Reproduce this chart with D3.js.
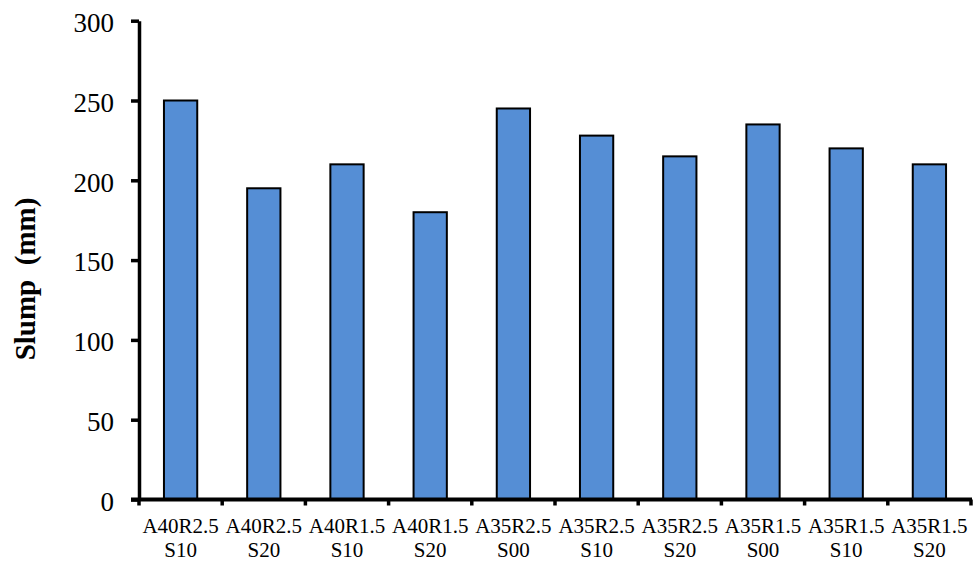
<!DOCTYPE html>
<html>
<head>
<meta charset="utf-8">
<script src="https://cdn.jsdelivr.net/npm/d3@7"></script>
<style>
  body { margin: 0; background: #fff; }
  svg { display: block; font-family: "Liberation Serif", "Times New Roman", serif; }
</style>
</head>
<body>
<div id="chart"></div>
<script>
// data
var categories = ["A40R2.5 S10", "A40R2.5 S20", "A40R1.5 S10", "A40R1.5 S20", "A35R2.5 S00",
                  "A35R2.5 S10", "A35R2.5 S20", "A35R1.5 S00", "A35R1.5 S10", "A35R1.5 S20"];
var slump = [250, 195, 210, 180, 245, 228, 215, 235, 220, 210];
var yTicks = [0, 50, 100, 150, 200, 250, 300];

var width = 973;
var height = 568;

var plot = { left: 139, right: 971, top: 20.7, bottom: 499.5 };

var svg = d3.select("#chart")
  .append("svg")
  .attr("width", width)
  .attr("height", height);

var xScale = d3.scaleBand()
  .domain(categories)
  .range([plot.left, plot.right])
  .paddingInner(0.6)
  .paddingOuter(0.3);

var yScale = d3.scaleLinear()
  .domain([0, 300])
  .range([plot.bottom, plot.top]);

// bars
svg.append("g")
  .selectAll("rect")
  .data(slump)
  .enter()
  .append("rect")
  .attr("x", function (d, i) { return xScale(categories[i]); })
  .attr("y", function (d) { return yScale(d); })
  .attr("width", xScale.bandwidth())
  .attr("height", function (d) { return yScale(0) - yScale(d); })
  .style("fill", "#558ed5")
  .style("stroke", "#000")
  .style("stroke-width", 2);

// y axis
var yAxisCall = d3.axisLeft(yScale)
  .tickValues(yTicks)
  .tickSize(8)
  .tickPadding(17)
  .tickSizeOuter(0);

var yAxis = svg.append("g")
  .attr("transform", "translate(" + plot.left + ",0)")
  .call(yAxisCall);
yAxis.select(".domain").attr("stroke-width", 3.5);
yAxis.selectAll(".tick line").attr("stroke-width", 3.5);
yAxis.selectAll(".tick text")
  .style("font-family", "Liberation Serif")
  .style("font-size", "27px")
  .attr("dy", "0.4em")
  .attr("fill", "#000");

// x axis: ticks sit on the category boundaries
var step = xScale.step();
var boundaries = d3.range(categories.length + 1).map(function (i) { return plot.left + i * step; });

var xAxis = svg.append("g");
xAxis.append("line")
  .attr("x1", plot.left - 8)
  .attr("x2", plot.right + 1)
  .attr("y1", plot.bottom)
  .attr("y2", plot.bottom)
  .attr("stroke", "#000")
  .attr("stroke-width", 4);
xAxis.selectAll(".xtick")
  .data(boundaries)
  .enter()
  .append("line")
  .attr("class", "xtick")
  .attr("x1", function (d) { return d; })
  .attr("x2", function (d) { return d; })
  .attr("y1", plot.bottom)
  .attr("y2", plot.bottom + 6)
  .attr("stroke", "#000")
  .attr("stroke-width", 3.5);

// two-line category labels
var labels = xAxis.selectAll(".xlabel")
  .data(categories)
  .enter()
  .append("text")
  .attr("class", "xlabel")
  .attr("text-anchor", "middle")
  .style("font-size", "21px")
  .attr("fill", "#000");
labels.each(function (d) {
  var parts = d.split(" ");
  var cx = xScale(d) + xScale.bandwidth() / 2;
  var t = d3.select(this);
  t.append("tspan").attr("x", cx).attr("y", 533).text(parts[0]);
  t.append("tspan").attr("x", cx).attr("y", 557).text(parts[1]);
});

// y title
svg.append("text")
  .attr("transform", "translate(35,279) rotate(-90)")
  .attr("text-anchor", "middle")
  .style("font-size", "29px")
  .style("font-weight", "bold")
  .style("white-space", "pre")
  .attr("fill", "#000")
  .text("Slump  (mm)");
</script>
</body>
</html>
